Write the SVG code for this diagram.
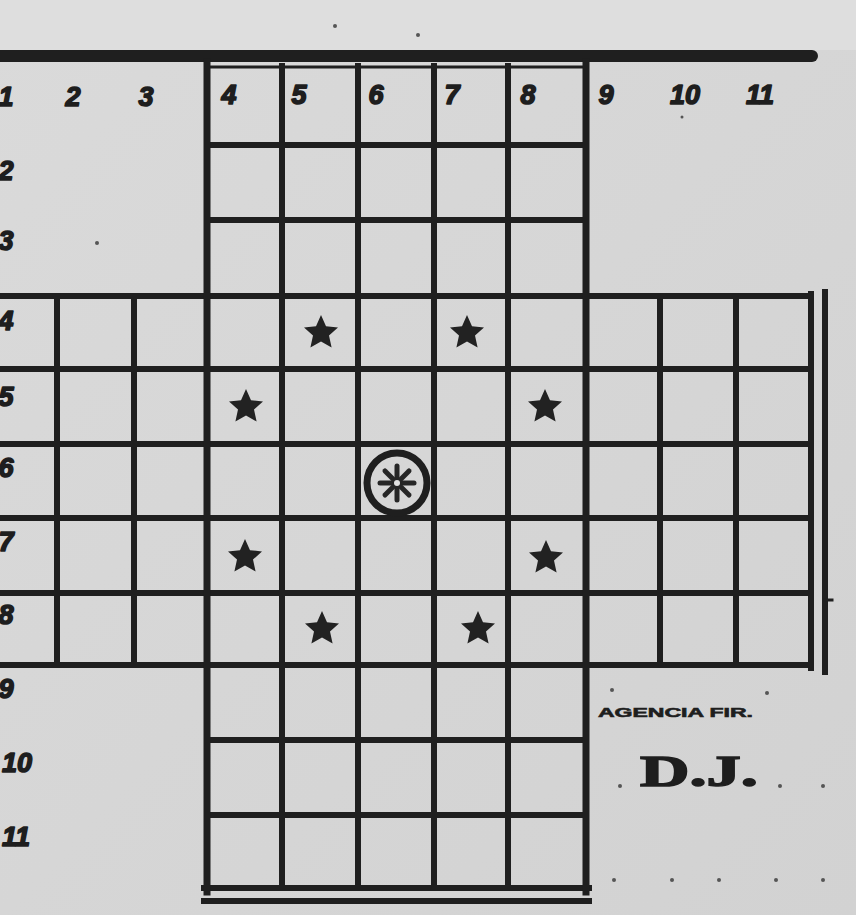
<svg xmlns="http://www.w3.org/2000/svg" width="856" height="915" viewBox="0 0 856 915">
<style>
.g{stroke:#1f1f1f;stroke-width:6;stroke-linecap:square;fill:none}
.gt{stroke:#1f1f1f;stroke-width:7;stroke-linecap:square;fill:none}
.num{font-family:"Liberation Sans",Arial,sans-serif;font-weight:bold;font-style:italic;font-size:27px;fill:#1e1e1e;stroke:#1e1e1e;stroke-width:1.6;stroke-linejoin:round;text-anchor:middle}
.rl{text-anchor:start}
.star{fill:#222}
.dot{fill:#555}
</style>
<defs>
<polygon id="st" points="0,-18 5,-6.8 17,-5.6 8,2.6 10.6,14.5 0,8.4 -10.6,14.5 -8,2.6 -17,-5.6 -5,-6.8"/>
<linearGradient id="bg" x1="0" y1="0" x2="1" y2="1">
<stop offset="0" stop-color="#dadada"/>
<stop offset="1" stop-color="#d2d2d2"/>
</linearGradient>
</defs>
<rect width="856" height="915" fill="url(#bg)"/>
<rect width="856" height="50" fill="#dedede"/>
<g id="board">
<line x1="0" y1="56" x2="812" y2="56" stroke="#1f1f1f" stroke-width="12" stroke-linecap="round"/>
<line class="g" x1="207" y1="67" x2="586" y2="67" style="stroke-width:3"/>
<line class="g" x1="207" y1="145" x2="586" y2="145"/>
<line class="g" x1="207" y1="220" x2="586" y2="220"/>
<line class="g" x1="0" y1="296" x2="811" y2="296"/>
<line class="g" x1="0" y1="369" x2="811" y2="369"/>
<line class="g" x1="0" y1="444" x2="811" y2="444"/>
<line class="g" x1="0" y1="518" x2="811" y2="518"/>
<line class="g" x1="0" y1="593" x2="811" y2="593"/>
<line class="g" x1="0" y1="665" x2="811" y2="665"/>
<line class="g" x1="207" y1="740" x2="586" y2="740"/>
<line class="g" x1="207" y1="815" x2="586" y2="815"/>
<line class="g" x1="204" y1="888" x2="589" y2="888"/>
<line class="g" x1="204" y1="901" x2="589" y2="901"/>
<line class="g" x1="57" y1="296" x2="57" y2="665"/>
<line class="g" x1="134" y1="296" x2="134" y2="665"/>
<line class="gt" x1="207" y1="62" x2="207" y2="892"/>
<line class="g" x1="282" y1="66" x2="282" y2="888"/>
<line class="g" x1="358" y1="66" x2="358" y2="888"/>
<line class="g" x1="434" y1="66" x2="434" y2="888"/>
<line class="g" x1="508" y1="66" x2="508" y2="888"/>
<line class="gt" x1="586" y1="62" x2="586" y2="892"/>
<line class="g" x1="660" y1="296" x2="660" y2="665"/>
<line class="g" x1="736" y1="296" x2="736" y2="665"/>
<line class="g" x1="811" y1="294" x2="811" y2="668"/>
<line class="g" x1="825" y1="292" x2="825" y2="672"/>
<line class="g" x1="825" y1="600" x2="832" y2="600" style="stroke-width:3"/>
</g>
<g id="column-labels">
<text class="num" x="6" y="106">1</text>
<text class="num" x="73" y="106">2</text>
<text class="num" x="146" y="106">3</text>
<text class="num" x="229" y="104">4</text>
<text class="num" x="299" y="104">5</text>
<text class="num" x="376" y="104">6</text>
<text class="num" x="452" y="104">7</text>
<text class="num" x="528" y="104">8</text>
<text class="num" x="606" y="104">9</text>
<text class="num" x="685" y="104">10</text>
<text class="num" x="760" y="104">11</text>
</g>
<g id="row-labels">
<text class="num" x="6" y="180">2</text>
<text class="num" x="6" y="250">3</text>
<text class="num" x="6" y="330">4</text>
<text class="num" x="6" y="406">5</text>
<text class="num" x="6" y="477">6</text>
<text class="num" x="6" y="551">7</text>
<text class="num" x="6" y="624">8</text>
<text class="num" x="6" y="698">9</text>
<text class="num rl" x="2" y="772">10</text>
<text class="num rl" x="2" y="846">11</text>
</g>
<g id="stars" class="star">
<use href="#st" x="321" y="333"/>
<use href="#st" x="467" y="333"/>
<use href="#st" x="246" y="407"/>
<use href="#st" x="545" y="407"/>
<use href="#st" x="245" y="557"/>
<use href="#st" x="546" y="558"/>
<use href="#st" x="322" y="629"/>
<use href="#st" x="478" y="629"/>
</g>
<g id="center-mark">
<circle cx="397" cy="483" r="30" fill="none" stroke="#1f1f1f" stroke-width="7"/>
<g stroke="#262626" stroke-width="5" stroke-linecap="round">
<line x1="397" y1="483" x2="397" y2="466"/>
<line x1="397" y1="483" x2="397" y2="500"/>
<line x1="397" y1="483" x2="380" y2="483"/>
<line x1="397" y1="483" x2="414" y2="483"/>
<line x1="397" y1="483" x2="385" y2="471"/>
<line x1="397" y1="483" x2="409" y2="471"/>
<line x1="397" y1="483" x2="385" y2="495"/>
<line x1="397" y1="483" x2="409" y2="495"/>
</g>
<circle cx="397" cy="483" r="3" fill="#e0e0e0"/>
</g>
<g id="credit">
<text x="598" y="717" font-family="Liberation Sans,Arial,sans-serif" font-weight="bold" font-size="13" fill="#1e1e1e" stroke="#1e1e1e" stroke-width="0.6" textLength="155" lengthAdjust="spacingAndGlyphs">AGENCIA FIR.</text>
<text x="640" y="786" font-family="Liberation Serif,Times New Roman,serif" font-weight="bold" font-size="44" fill="#1e1e1e" stroke="#1e1e1e" stroke-width="1.5" textLength="118" lengthAdjust="spacingAndGlyphs">D.J.</text>
</g>
<g id="specks" class="dot">
<circle cx="612" cy="690" r="2"/><circle cx="767" cy="693" r="2"/><circle cx="620" cy="786" r="2"/>
<circle cx="780" cy="786" r="2"/><circle cx="823" cy="786" r="2"/><circle cx="614" cy="880" r="2"/>
<circle cx="672" cy="880" r="2"/><circle cx="719" cy="880" r="2"/><circle cx="776" cy="880" r="2"/>
<circle cx="823" cy="880" r="2"/><circle cx="335" cy="26" r="2"/><circle cx="418" cy="35" r="2"/>
<circle cx="97" cy="243" r="2"/><circle cx="682" cy="117" r="1.5"/>
</g>
</svg>
